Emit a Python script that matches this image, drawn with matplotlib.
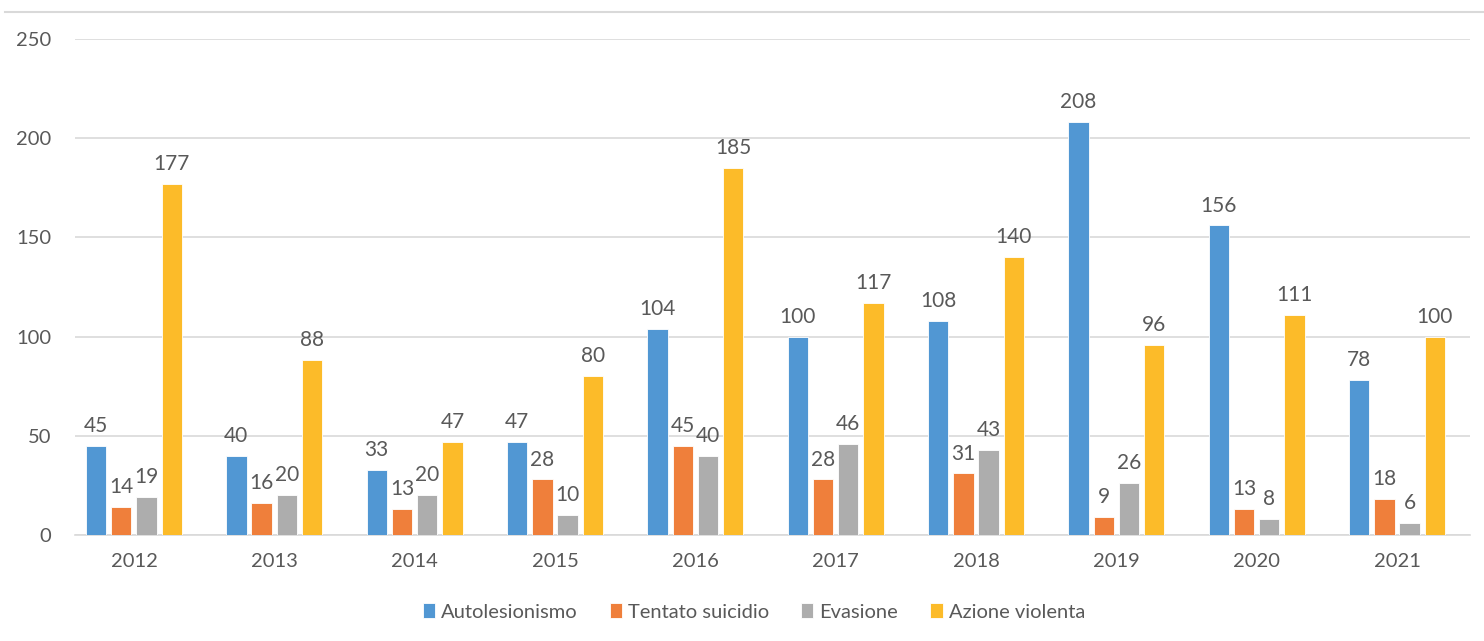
import matplotlib.pyplot as plt
import numpy as np
from matplotlib.lines import Line2D

# data
years = ['2012', '2013', '2014', '2015', '2016', '2017', '2018', '2019', '2020', '2021']
autolesionismo = [45, 40, 33, 47, 104, 100, 108, 208, 156, 78]
tentato_suicidio = [14, 16, 13, 28, 45, 28, 31, 9, 13, 18]
evasione = [19, 20, 20, 10, 40, 46, 43, 26, 8, 6]
azione_violenta = [177, 88, 47, 80, 185, 117, 140, 96, 111, 100]

series = [
    ('Autolesionismo', autolesionismo, '#5197D3'),
    ('Tentato suicidio', tentato_suicidio, '#EF7F3B'),
    ('Evasione', evasione, '#ADADAD'),
    ('Azione violenta', azione_violenta, '#FCBB29'),
]

plt.rcParams['font.family'] = ['Lato', 'DejaVu Sans']
txt = '#595959'

fig = plt.figure(figsize=(14.84, 6.41), dpi=100)
ax = fig.add_axes([75 / 1484, 106 / 641, 1395 / 1484, 496 / 641])

x = np.arange(len(years))
w = 0.145
step = 0.18
for i, (name, vals, col) in enumerate(series):
    pos = x + (i - 1.5) * step
    bars = ax.bar(pos, vals, w, color=col, label=name, edgecolor='white', linewidth=0.6, zorder=3)
    for xp, v in zip(pos, vals):
        ax.text(xp, v + 5, str(v), ha='center', va='bottom', fontsize=15, color=txt)

ax.set_ylim(0, 250)
ax.set_xlim(-0.42, 9.52)
ax.set_yticks(range(0, 251, 50))
ax.set_xticks(x)
ax.set_xticklabels(years)
ax.yaxis.grid(True, color='#D9D9D9', linewidth=1.2, zorder=0)
ax.set_axisbelow(True)
for s in ['top', 'right', 'left']:
    ax.spines[s].set_visible(False)
ax.spines['bottom'].set_color('#D9D9D9')
ax.spines['bottom'].set_linewidth(1.2)
ax.tick_params(axis='both', length=0, labelsize=14.5, colors=txt)
ax.tick_params(axis='x', pad=13)
ax.tick_params(axis='y', pad=17)

fig.legend(loc='center', bbox_to_anchor=(0.508, 1 - 612 / 641), ncol=4, frameon=False,
           fontsize=14.5, labelcolor=txt, handlelength=0.6, handleheight=0.7,
           handletextpad=0.3, columnspacing=1.6)

fig.add_artist(Line2D([5 / 1484, 1], [1 - 12 / 641, 1 - 12 / 641], color='#D9D9D9', linewidth=1.5))

fig.savefig('out.png', dpi=100)
